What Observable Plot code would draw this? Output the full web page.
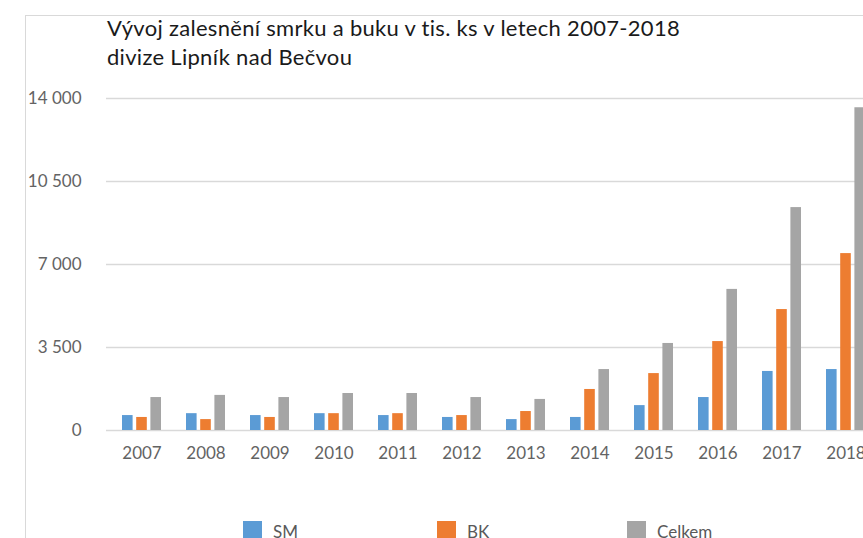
<!DOCTYPE html>
<html><head><meta charset="utf-8">
<script src="https://cdn.jsdelivr.net/npm/d3@7"></script>
<script src="https://cdn.jsdelivr.net/npm/@observablehq/plot@0.6"></script>
<style>
html,body{margin:0;padding:0;width:863px;height:538px;overflow:hidden;background:#fff;font-family:Lato, sans-serif;}
#frame{position:absolute;left:25px;top:15px;right:-5px;bottom:-5px;border-top:1px solid #d9d9d9;border-left:1px solid #d9d9d9;z-index:2;pointer-events:none}
#title{position:absolute;left:107px;top:14px;font-size:22px;letter-spacing:0.3px;line-height:28.5px;color:#1a1a1a;white-space:nowrap;z-index:3}
#chart{position:absolute;left:0;top:80px;z-index:1}
.leg{position:absolute;top:521px;height:24px;font-size:17px;line-height:20px;color:#595959;z-index:3;white-space:nowrap}
.leg .sw{position:absolute;left:0;top:0;width:19px;height:19px}
.leg .tx{position:absolute;left:30px;top:1px}
</style>
</head><body>
<div id="frame"></div>
<div id="title">Vývoj zalesnění smrku a buku v tis. ks v letech 2007-2018<br>divize Lipník nad Bečvou</div>
<div id="chart"></div>
<div id="legend"></div>
<script>
// Data (tis. ks)
const years = ["2007","2008","2009","2010","2011","2012","2013","2014","2015","2016","2017","2018"];
const sm     = [630, 710, 630, 710, 630, 550, 460, 550, 1050, 1390, 2490, 2570];
const bk     = [550, 460, 550, 710, 710, 630, 800, 1730, 2400, 3750, 5100, 7460];
const celkem = [1390, 1480, 1390, 1560, 1560, 1390, 1310, 2570, 3670, 5950, 9400, 13610];
const seriesNames = ["SM", "BK", "Celkem"];
const seriesColors = ["#5b9bd5", "#ed7d31", "#a5a5a5"];
const yTicks = [0, 3500, 7000, 10500, 14000];
const yTickLabels = ["0", "3 500", "7 000", "10 500", "14 000"];

const table = years.map((y, i) => ({year: y, sm: sm[i], bk: bk[i], celkem: celkem[i]}));
const bandInner = 39.4, barW = 11;

const chart = Plot.plot({
  width: 863, height: 458,
  marginLeft: 106, marginRight: 0, marginTop: 18, marginBottom: 108,
  style: {background: "transparent", fontFamily: "Lato, sans-serif", fontSize: "17px", color: "#636363", overflow: "hidden"},
  x: {domain: years, range: [106, 881], paddingInner: 0.39, paddingOuter: 0.195, tickSize: 0, tickPadding: 16, label: null},
  y: {domain: [0, 14000], ticks: yTicks, tickFormat: d => yTickLabels[yTicks.indexOf(d)], tickSize: 0, tickPadding: 25, label: null},
  marks: [
    Plot.ruleY(yTicks, {stroke: "#d9d9d9", strokeWidth: 1.6}),
    Plot.barY(table, {x: "year", y: "sm", fill: seriesColors[0], insetRight: bandInner - barW}),
    Plot.barY(table, {x: "year", y: "bk", fill: seriesColors[1], insetLeft: (bandInner - barW) / 2, insetRight: (bandInner - barW) / 2}),
    Plot.barY(table, {x: "year", y: "celkem", fill: seriesColors[2], insetLeft: bandInner - barW})
  ]
});
document.getElementById("chart").appendChild(chart);

const legendX = [243, 437, 627];
const leg = document.getElementById("legend");
seriesNames.forEach((n, i) => {
  const d = document.createElement("div");
  d.className = "leg";
  d.style.left = legendX[i] + "px";
  d.innerHTML = `<span class="sw" style="background:${seriesColors[i]}"></span><span class="tx">${n}</span>`;
  leg.appendChild(d);
});
</script>
</body></html>
